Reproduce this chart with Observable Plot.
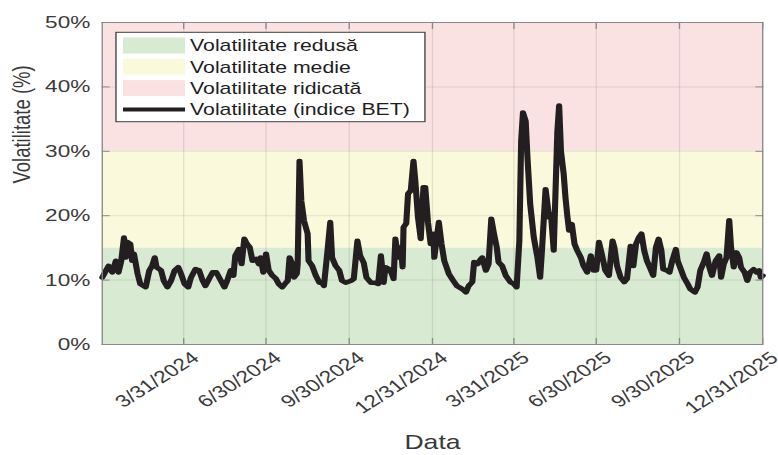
<!DOCTYPE html>
<html><head><meta charset="utf-8">
<script src="https://cdn.jsdelivr.net/npm/d3@7"></script>
<script src="https://cdn.jsdelivr.net/npm/@observablehq/plot@0.6"></script>
<style>
html,body{margin:0;padding:0;background:#fff;}
#chart svg{display:block;}
</style>
</head><body><div id="chart"></div>
<script>
// ---- data ----
const startDate = "2024-01-01";            // day 0 of the series
const days = [0,3,7,11,15,18,21,24,26,28,31,33,35,39,42,48,52,55,58,60,65,68,72,76,80,84,87,91,95,98,103,107,111,114,118,122,
126,130,135,138,142,145,147,151,154,157,160,163,166,170,173,175,178,181,184,188,192,195,199,203,205,207,210,212,215,216,218,220,223,227,228,232,236,240,243,
245,249,252,254,258,262,265,269,275,278,282,285,289,292,297,301,305,308,311,313,317,320,322,324,327,330,332,333,336,338,341,344,346,349,352,355,357,360,363,
366,367,370,372,375,378,383,388,392,398,402,405,409,411,415,417,420,424,427,430,433,436,438,442,446,451,455,458,461,463,465,468,470,473,477,481,484,486,490,494,496,499,503,505,507,510,512,514,516,519,522,525,529,532,536,540,543,546,549,553,556,560,564,566,569,573,577,580,584,587,590,593,596,599,602,606,609,612,615,618,620,624,627,630,634,636,640,643,647,650,655,658,661,665,668,671,674,678,682,684,687,690,693,695,698,701,704,706,710,713,716,720,723,726,728,730];
const volatility = [10.4,11.2,12.2,11.2,13,11.2,13,16.6,13.5,15.9,15.6,13,14.1,11,9.4,8.9,11.5,12.2,13.5,12,11.5,9.9,8.9,9.9,11.5,12,11,9.4,8.9,10.4,11.7,11.5,9.9,9.1,10.2,11.2,
11.2,10.2,8.9,9.9,11.5,10.7,13.8,14.8,12.5,16.4,15.6,15.1,13,13.3,12.5,13.5,11.2,14.1,11.5,10.7,10.2,9.4,8.9,9.6,9.9,13.5,12.5,10.4,11,12.5,28.5,22.3,19.2,17.2,13,12.2,10.7,9.6,9.6,
9.1,14.6,19,13.5,12.2,11.5,9.9,9.6,9.9,10.2,16.1,13.8,12.7,10.4,9.6,9.6,9.4,13.8,9.6,12,11.7,11,10.2,16.4,13.5,15.1,12,18.2,18.8,23.4,23.9,28.5,25.4,19.7,16.4,24.4,24.4,19,15.6,
17.2,13.5,16.9,19,15.6,13,11,9.9,9.1,8.6,8.1,9.1,9.7,12.8,12.5,13,13.5,11.5,12.5,19.5,17.2,15.1,12.8,12.2,10.7,9.7,9.4,8.9,16.1,31.6,36,34.7,29,21.8,16.6,13.5,10.4,14.6,24.1,19.7,20.2,14.6,33,37.1,30,26.5,22.8,20,17.7,18.7,15.6,14.6,13.5,12.2,11.2,13.8,11.5,11.5,15.9,13.5,11.5,10.7,16.1,15.1,12.2,10.4,9.7,10.2,15.3,12.2,15.6,16.6,17.2,14.6,13,11.7,10.7,15.1,16.4,14.6,11.7,11.5,11.2,13,14.8,13,11.5,10.4,9.4,8.6,8.1,8.9,11.5,12.8,14.1,12,10.7,13,13.8,10.4,12.5,13.5,19.3,15.1,12,14.3,13.5,12,11.2,9.9,11.2,11.7,11.2,11.5,10.4,10.7];

const bandNames = ["Volatilitate redusă", "Volatilitate medie", "Volatilitate ridicată"];
const bandLow = [0, 15, 30];
const bandHigh = [15, 30, 50];
const bandColors = ["#d9ead3", "#faf9dc", "#fae1e2"];
const lineName = "Volatilitate (indice BET)";
const lineColor = "#231f20";
const xDomain = ["2024-01-01", "2025-12-31"];
const xTickDates = ["2024-03-31","2024-06-30","2024-09-30","2024-12-31","2025-03-31","2025-06-30","2025-09-30","2025-12-31"];
const yTicks = [0, 10, 20, 30, 40, 50];
const xLabel = "Data";
const yLabel = "Volatilitate (%)";

// ---- build tables ----
const start = new Date(startDate);
const series = days.map((d, i) => ({date: d3.utcDay.offset(start, d), v: volatility[i]}));
const bands = bandNames.map((n, i) => ({name: n, lo: bandLow[i], hi: bandHigh[i], color: bandColors[i]}));
const xTicks = xTickDates.map(d => new Date(d));
const fmt = d3.utcFormat("%-m/%-d/%Y");

// the reference picture is horizontally stretched; draw at a narrower width and stretch
const W = 778, H = 455, S = 1.33, W0 = W / S;
const font = "'Liberation Sans', Arial, Helvetica, sans-serif";
const axisColor = "#8a8a8a";
const textColor = "#3a3a3a";

const svg = Plot.plot({
  width: W0, height: H,
  marginLeft: 76.4, marginRight: 12, marginTop: 22, marginBottom: 111,
  x: {type: "utc", domain: xDomain.map(d => new Date(d))},
  y: {domain: [0, 50]},
  color: {type: "identity"},
  style: {fontFamily: font, fontSize: "16px", color: textColor, background: "transparent", overflow: "visible"},
  marks: [
    Plot.rect(bands, {y1: "lo", y2: "hi", fill: "color"}),
    Plot.gridX(xTicks, {stroke: "#000", strokeOpacity: 0.09}),
    Plot.gridY(yTicks, {stroke: "#000", strokeOpacity: 0.09}),
    Plot.line(series, {x: "date", y: "v", stroke: lineColor, strokeWidth: 4.6, strokeLinejoin: "round", strokeLinecap: "round"}),
    Plot.frame({stroke: axisColor}),
    // inward ticks on all four sides
    Plot.axisX(xTicks, {anchor: "bottom", tickSize: 6, dy: -6, tickFormat: () => "", label: null, stroke: axisColor}),
    Plot.axisX(xTicks, {anchor: "top", tickSize: 6, dy: 6, tickFormat: () => "", label: null, stroke: axisColor}),
    Plot.axisY(yTicks, {anchor: "left", tickSize: 6, dx: 6, tickFormat: () => "", label: null, stroke: axisColor}),
    Plot.axisY(yTicks, {anchor: "right", tickSize: 6, dx: -6, tickFormat: () => "", label: null, stroke: axisColor}),
    // tick labels
    Plot.axisX(xTicks, {anchor: "bottom", tickSize: 0, tickPadding: 11, dx: 9, tickRotate: -40, tickFormat: fmt, label: null, fontSize: 17, fill: textColor}),
    Plot.axisY(yTicks, {anchor: "left", tickSize: 0, tickPadding: 9, tickFormat: d => d + "%", label: null, fontSize: 17, fill: textColor}),
    // axis titles
    Plot.text([yLabel], {frameAnchor: "left", rotate: -90, dx: -60, fontSize: 18.5, fill: textColor}),
    Plot.text([xLabel], {frameAnchor: "bottom", dy: 104, fontSize: 20, fill: textColor})
  ]
});

// legend (inside the axes, top-left)
const g = d3.select(svg).append("g").attr("font-family", font).attr("font-size", 16).attr("text-anchor", "start");
g.append("rect").attr("x", 87.2).attr("y", 32.3).attr("width", 232.3).attr("height", 89.4)
  .attr("fill", "#fff").attr("stroke", "#404040");
const legendItems = bands.map(b => ({name: b.name, color: b.color, kind: "rect"}))
  .concat([{name: lineName, color: lineColor, kind: "line"}]);
legendItems.forEach((it, i) => {
  const cy = 45.5 + 21.3 * i;
  if (it.kind === "rect") {
    g.append("rect").attr("x", 92.5).attr("y", cy - 8).attr("width", 46.6).attr("height", 16).attr("fill", it.color);
  } else {
    g.append("line").attr("x1", 92.5).attr("x2", 139.1).attr("y1", cy).attr("y2", cy)
      .attr("stroke", it.color).attr("stroke-width", 4);
  }
  g.append("text").attr("x", 142.9).attr("y", cy).attr("dy", "0.36em").attr("text-anchor", "start")
    .attr("fill", "#1e1e1e").text(it.name);
});

svg.setAttribute("width", W);
svg.setAttribute("height", H);
svg.setAttribute("preserveAspectRatio", "none");
svg.style.width = W + "px";
svg.style.height = H + "px";
svg.style.maxWidth = "none";
document.getElementById("chart").appendChild(svg);
</script>
</body></html>
